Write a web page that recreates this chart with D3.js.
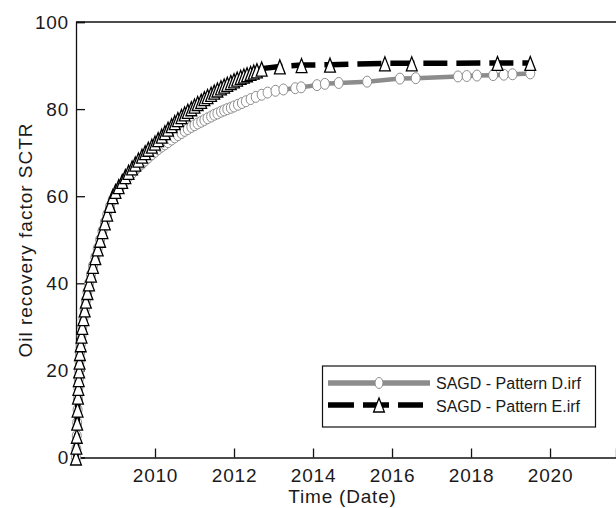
<!DOCTYPE html>
<html>
<head>
<meta charset="utf-8">
<script src="https://cdn.jsdelivr.net/npm/d3@7"></script>
<style>
  html, body { margin: 0; padding: 0; background: #fff; }
  svg text { font-family: "Liberation Sans", Arial, Helvetica, sans-serif; fill: #1a1a1a; }
</style>
</head>
<body>
<div id="chart"></div>
<script>
// time in decimal years, recovery factor in %
var patternD_years = [
  2008.00, 2008.01, 2008.02, 2008.03, 2008.04, 2008.05, 2008.06, 2008.07, 2008.08, 2008.09,
  2008.10, 2008.12, 2008.14, 2008.16, 2008.19, 2008.22, 2008.25, 2008.29, 2008.33, 2008.38,
  2008.43, 2008.49, 2008.55, 2008.61, 2008.67, 2008.73, 2008.79, 2008.86, 2008.93, 2009.00,
  2009.08, 2009.17, 2009.25, 2009.33, 2009.42, 2009.50, 2009.58, 2009.67, 2009.75, 2009.83,
  2009.92, 2010.00, 2010.08, 2010.17, 2010.25, 2010.33, 2010.42, 2010.50, 2010.58, 2010.67,
  2010.75, 2010.83, 2010.92, 2011.00, 2011.08, 2011.17, 2011.25, 2011.33, 2011.42, 2011.50,
  2011.58, 2011.67, 2011.75, 2011.83, 2011.92, 2012.00, 2012.10, 2012.20, 2012.30, 2012.42,
  2012.55, 2012.70, 2012.85, 2013.05, 2013.25, 2013.55, 2013.70, 2014.10, 2014.30, 2014.65,
  2015.37, 2016.20, 2016.60, 2017.67, 2017.89, 2018.15, 2018.56, 2018.83, 2019.05, 2019.50
];
var patternD_values = [
  0, 2, 5, 8, 11, 13.5, 16, 18, 20, 22,
  24, 26, 28, 30, 32, 34, 36, 38, 40, 42,
  44, 46, 48, 50, 52, 54, 55.8, 57.6, 59.2, 60.4,
  61.6, 62.7, 63.6, 64.5, 65.3, 66.1, 66.8, 67.5, 68.2, 68.9,
  69.6, 70.2, 70.8, 71.4, 71.9, 72.4, 73.0, 73.5, 74.0, 74.5,
  75.0, 75.4, 75.9, 76.3, 76.7, 77.1, 77.5, 77.9, 78.3, 78.7,
  79.0, 79.4, 79.7, 80.0, 80.3, 80.6, 81.0, 81.4, 81.8, 82.3,
  82.8, 83.3, 83.8, 84.2, 84.5, 84.8, 85.0, 85.5, 85.8, 86.0,
  86.3, 87.0, 87.1, 87.5, 87.6, 87.7, 87.8, 87.9, 88.0, 88.2
];

var patternE_years = [
  2008.00, 2008.01, 2008.02, 2008.03, 2008.04, 2008.05, 2008.06, 2008.07, 2008.08, 2008.09,
  2008.10, 2008.12, 2008.14, 2008.16, 2008.19, 2008.22, 2008.25, 2008.29, 2008.33, 2008.38,
  2008.43, 2008.49, 2008.55, 2008.61, 2008.67, 2008.73, 2008.79, 2008.86, 2008.93, 2009.00,
  2009.08, 2009.17, 2009.25, 2009.33, 2009.42, 2009.50, 2009.58, 2009.67, 2009.75, 2009.83,
  2009.92, 2010.00, 2010.08, 2010.17, 2010.25, 2010.33, 2010.42, 2010.50, 2010.58, 2010.67,
  2010.75, 2010.83, 2010.92, 2011.00, 2011.08, 2011.17, 2011.25, 2011.33, 2011.42, 2011.50,
  2011.58, 2011.67, 2011.75, 2011.83, 2011.92, 2012.00, 2012.08, 2012.17, 2012.25, 2012.33,
  2012.42, 2012.50, 2012.58, 2012.70, 2013.16, 2013.71, 2014.43, 2015.82, 2016.50, 2018.67,
  2019.50
];
var patternE_values = [
  0, 2.5, 5, 8, 11, 14, 16, 18, 20, 22,
  24, 26, 28, 30, 32, 34, 36, 38, 40, 42,
  44, 46, 48, 50, 52, 54, 56, 58, 60, 61.2,
  62.3, 63.5, 64.6, 65.6, 66.6, 67.5, 68.4, 69.3, 70.1, 70.9,
  71.6, 72.3, 73.1, 73.9, 74.7, 75.5, 76.3, 77.0, 77.7, 78.4,
  79.0, 79.6, 80.2, 80.8, 81.4, 81.9, 82.5, 83.0, 83.5, 84.0,
  84.5, 85.0, 85.4, 85.8, 86.2, 86.6, 87.0, 87.4, 87.7, 88.0,
  88.3, 88.6, 88.9, 89.3, 89.8, 90.1, 90.2, 90.5, 90.5, 90.6,
  90.6
];

var xTicks = [2010, 2012, 2014, 2016, 2018, 2020];
var yTicks = [0, 20, 40, 60, 80, 100];

var seriesNames = ["SAGD - Pattern D.irf", "SAGD - Pattern E.irf"];

(function () {

  "use strict";

  var W = 616, H = 508,
      left = 76, top = 22, bottom = 457.5, right = 616;

  var svg = d3.select("#chart")
    .append("svg")
      .attr("width", W)
      .attr("height", H);

  var x = d3.scaleLinear().domain([2008, 2021.67]).range([left, right]);
  var y = d3.scaleLinear().domain([0, 100]).range([bottom, top]);

  var zip = function (xs, ys) {
    return xs.map(function (d, i) { return [d, ys[i]]; });
  };
  var dataD = zip(patternD_years, patternD_values),
      dataE = zip(patternE_years, patternE_values);

  // axes (ticks point into the plot)
  var xAxis = svg.append("g")
    .attr("transform", "translate(0," + bottom + ")")
    .call(d3.axisTop(x).tickValues(xTicks).tickSize(9).tickFormat(d3.format("d")));
  xAxis.selectAll("text")
    .attr("y", 24)
    .attr("dy", 0)
    .style("font-size", "19px")
    .style("letter-spacing", "0.8px");

  var yAxis = svg.append("g")
    .attr("transform", "translate(" + left + ",0)")
    .call(d3.axisRight(y).tickValues(yTicks).tickSize(9));
  yAxis.selectAll("text")
    .attr("x", -7)
    .attr("text-anchor", "end")
    .style("font-size", "19px")
    .style("letter-spacing", "0.8px");

  svg.selectAll(".domain").attr("stroke", "#111").attr("stroke-width", 1.3);
  svg.selectAll(".tick line").attr("stroke", "#111").attr("stroke-width", 1.3);

  // top frame line
  svg.append("line")
    .attr("x1", left).attr("x2", right)
    .attr("y1", top).attr("y2", top)
    .attr("stroke", "#111").attr("stroke-width", 1.3);

  // axis titles
  svg.append("text")
    .attr("x", 342.5).attr("y", 503)
    .attr("text-anchor", "middle")
    .style("font-size", "19px")
    .style("letter-spacing", "0.8px")
    .text("Time (Date)");

  svg.append("text")
    .attr("transform", "translate(32,240) rotate(-90)")
    .attr("text-anchor", "middle")
    .style("font-size", "19px")
    .style("letter-spacing", "1px")
    .text("Oil recovery factor SCTR");

  var line = d3.line()
    .x(function (d) { return x(d[0]); })
    .y(function (d) { return y(d[1]); });

  var triPath = "M0,-8L5.4,6L-5.4,6Z";

  // Pattern D
  svg.append("path")
    .datum(dataD)
    .attr("d", line)
    .attr("fill", "none")
    .attr("stroke", "#8c8c8c")
    .attr("stroke-width", 4.5);

  svg.append("g").selectAll("ellipse")
    .data(dataD)
    .join("ellipse")
      .attr("cx", function (d) { return x(d[0]); })
      .attr("cy", function (d) { return y(d[1]); })
      .attr("rx", 4.5)
      .attr("ry", 5.5)
      .attr("fill", "#fff")
      .attr("stroke", "#8c8c8c")
      .attr("stroke-width", 1);

  // Pattern E
  svg.append("path")
    .datum(dataE)
    .attr("d", line)
    .attr("fill", "none")
    .attr("stroke", "#000")
    .attr("stroke-width", 5.5)
    .attr("stroke-dasharray", "24,9");

  svg.append("g").selectAll("path")
    .data(dataE)
    .join("path")
      .attr("d", triPath)
      .attr("transform", function (d) { return "translate(" + x(d[0]) + "," + (y(d[1]) + 1.5) + ")"; })
      .attr("fill", "#fff")
      .attr("stroke", "#000")
      .attr("stroke-width", 1.3);

  // legend
  var lg = svg.append("g");
  lg.append("rect")
    .attr("x", 322.5).attr("y", 366)
    .attr("width", 273).attr("height", 61)
    .attr("fill", "#fff")
    .attr("stroke", "#111")
    .attr("stroke-width", 1.2);

  lg.append("line")
    .attr("x1", 328).attr("x2", 430)
    .attr("y1", 383).attr("y2", 383)
    .attr("stroke", "#8c8c8c").attr("stroke-width", 5.5);
  lg.append("ellipse")
    .attr("cx", 379).attr("cy", 383)
    .attr("rx", 4).attr("ry", 5.5)
    .attr("fill", "#fff").attr("stroke", "#8c8c8c").attr("stroke-width", 1);

  lg.append("line")
    .attr("x1", 328).attr("x2", 423)
    .attr("y1", 405).attr("y2", 405)
    .attr("stroke", "#000").attr("stroke-width", 5.5)
    .attr("stroke-dasharray", "26,9");
  lg.append("path")
    .attr("d", triPath)
    .attr("transform", "translate(379,406)")
    .attr("fill", "#fff").attr("stroke", "#000").attr("stroke-width", 1.3);

  lg.selectAll("text.lbl")
    .data(seriesNames)
    .join("text")
      .attr("class", "lbl")
      .attr("x", 436)
      .attr("y", function (d, i) { return 389 + i * 22.5; })
      .style("font-size", "16px")
      .text(function (d) { return d; });

}());
</script>
</body>
</html>
